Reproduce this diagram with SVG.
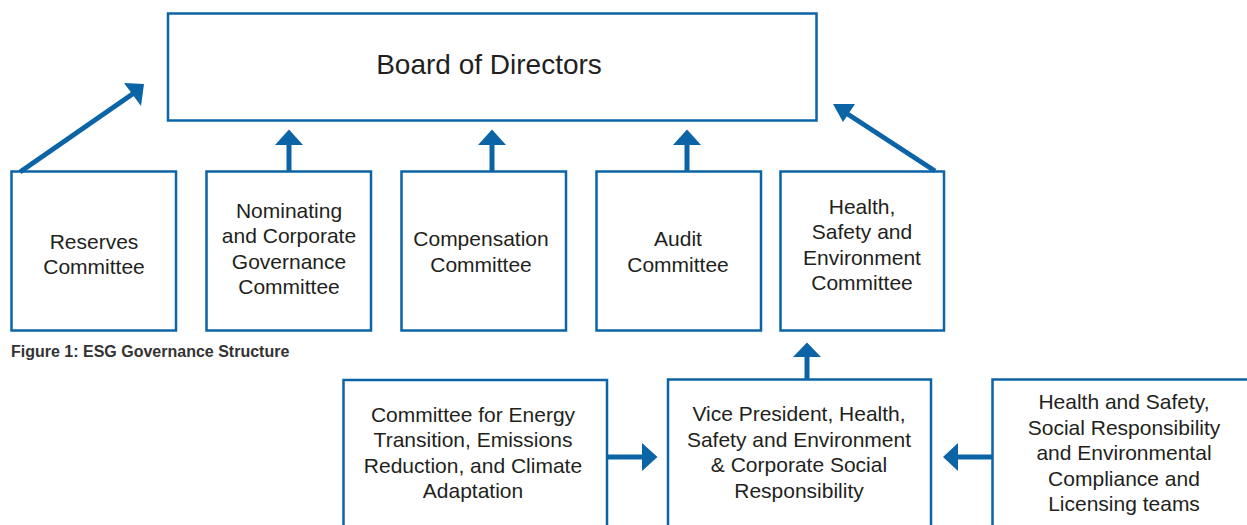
<svg xmlns="http://www.w3.org/2000/svg" width="1247" height="525" viewBox="0 0 1247 525">
<style>
.box{fill:#fff;stroke:#0b64a6;stroke-width:2.5}
.t{font-family:"Liberation Sans",Arial,sans-serif;font-size:21px;fill:#231f20;text-anchor:middle}
.big{font-size:28px}
.cap{font-family:"Liberation Sans",Arial,sans-serif;font-size:16px;font-weight:bold;fill:#333}
.sh{stroke:#0b64a6;stroke-width:5;fill:none}
.hd{fill:#0b64a6}
</style>
<rect width="1247" height="525" fill="#fff"/>
<g id="board"><rect class="box" x="168" y="13.5" width="648.5" height="107"/><text class="t big" x="489" y="73.5">Board of Directors</text></g>
<g id="reserves"><rect class="box" x="11.5" y="171.5" width="164.5" height="159"/><text class="t" x="94" y="248.5">Reserves</text><text class="t" x="94" y="273.5">Committee</text></g>
<g id="nominating"><rect class="box" x="206.5" y="171.5" width="164.5" height="159"/><text class="t" x="289" y="217.5">Nominating</text><text class="t" x="289" y="243">and Corporate</text><text class="t" x="289" y="268.5">Governance</text><text class="t" x="289" y="294">Committee</text></g>
<g id="compensation"><rect class="box" x="401.5" y="171.5" width="164.5" height="159"/><text class="t" x="481" y="246">Compensation</text><text class="t" x="481" y="271.5">Committee</text></g>
<g id="audit"><rect class="box" x="596.5" y="171.5" width="164.5" height="159"/><text class="t" x="678" y="246">Audit</text><text class="t" x="678" y="271.5">Committee</text></g>
<g id="hse"><rect class="box" x="780.5" y="171.5" width="163.5" height="159"/><text class="t" x="862" y="213.5">Health,</text><text class="t" x="862" y="239">Safety and</text><text class="t" x="862" y="264.5">Environment</text><text class="t" x="862" y="290">Committee</text></g>
<text class="cap" x="11" y="356.5">Figure 1: ESG Governance Structure</text>
<g id="energy"><rect class="box" x="343.5" y="380" width="263.5" height="160"/><text class="t" x="473" y="421.5">Committee for Energy</text><text class="t" x="473" y="447">Transition, Emissions</text><text class="t" x="473" y="472.5">Reduction, and Climate</text><text class="t" x="473" y="498">Adaptation</text></g>
<g id="vp"><rect class="box" x="668" y="379.5" width="263" height="160"/><text class="t" x="799" y="421">Vice President, Health,</text><text class="t" x="799" y="446.5">Safety and Environment</text><text class="t" x="799" y="472">&amp; Corporate Social</text><text class="t" x="799" y="497.5">Responsibility</text></g>
<g id="teams"><rect class="box" x="992.5" y="379.5" width="270" height="160"/><text class="t" x="1124" y="409">Health and Safety,</text><text class="t" x="1124" y="434.5">Social Responsibility</text><text class="t" x="1124" y="460">and Environmental</text><text class="t" x="1124" y="485.5">Compliance and</text><text class="t" x="1124" y="511">Licensing teams</text></g>
<g id="connectors">
<line class="sh" x1="20" y1="172" x2="134" y2="93"/><polygon class="hd" points="144,84 124,83 141,106"/>
<line class="sh" x1="289" y1="171" x2="289" y2="143"/><polygon class="hd" points="289,129.5 275,145 303,145"/>
<line class="sh" x1="492" y1="171" x2="492" y2="143"/><polygon class="hd" points="492,129.5 478,145 506,145"/>
<line class="sh" x1="687" y1="171" x2="687" y2="143"/><polygon class="hd" points="687,129.5 673,145 701,145"/>
<line class="sh" x1="935" y1="171" x2="843" y2="111"/><polygon class="hd" points="833,104 855,104 843,122"/>
<line class="sh" x1="807" y1="379" x2="807" y2="355"/><polygon class="hd" points="807,342.5 793,357 821,357"/>
<line class="sh" x1="607" y1="457" x2="644" y2="457"/><polygon class="hd" points="657.5,457 642,443 642,471"/>
<line class="sh" x1="992" y1="457" x2="956" y2="457"/><polygon class="hd" points="943,457 958,443 958,471"/>
</g>
</svg>
